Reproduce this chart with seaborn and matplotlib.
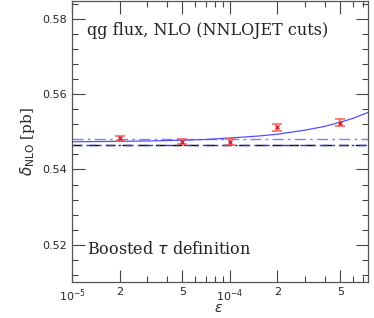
import numpy as np
import pandas as pd
import matplotlib
matplotlib.use('Agg')
import matplotlib.pyplot as plt
import seaborn as sns
from matplotlib.ticker import FixedLocator, FixedFormatter, MultipleLocator

# measured points
eps = [2e-5, 5e-5, 1e-4, 2e-4, 5e-4]
delta = [0.5483, 0.5474, 0.5472, 0.5512, 0.5525]
delta_err = [0.0007, 0.0007, 0.0008, 0.0009, 0.0009]

# fit curve
fit_eps = [1e-5, 2e-5, 3e-5, 5e-5, 7e-5, 1e-4, 1.5e-4, 2e-4, 3e-4, 4e-4, 5e-4, 6e-4, 7.5e-4]
fit_delta = [0.5474, 0.5475, 0.5476, 0.5478, 0.5480, 0.5484, 0.5489, 0.5494,
             0.5505, 0.5515, 0.5526, 0.5536, 0.5552]

# horizontal reference values
ref_light = 0.5482
ref_blue = 0.54665
ref_black = 0.5465

df = pd.DataFrame({'eps': eps, 'delta': delta, 'err': delta_err})
fit = pd.DataFrame({'eps': fit_eps, 'delta': fit_delta})

sns.set_style('ticks')
plt.rcParams['font.family'] = ['DejaVu Sans']

fig = plt.figure(figsize=(3.74, 3.18), dpi=100)
ax = fig.add_axes([0.193, 0.113, 0.791, 0.885])

ax.axhline(ref_light, color='#8080ff', lw=1.0, ls=(0, (8, 3, 2, 3)))
ax.axhline(ref_black, color='black', lw=1.0, ls=(0, (7, 5)))
ax.axhline(ref_blue, color='#3030ee', lw=1.0, ls=(4, (6, 3, 2, 3)))

sns.lineplot(data=fit, x='eps', y='delta', color='#5050ff', lw=0.9, ax=ax)

ax.errorbar(df['eps'], df['delta'], yerr=df['err'], fmt='none', ecolor='#ff5555',
            elinewidth=1.6, capsize=3.5, capthick=1.4, alpha=0.75)
ax.plot(df['eps'], df['delta'], ls='none', marker='x', ms=3, mew=1.0, color='#dd2222')

ax.set_xscale('log')
ax.set_xlim(1e-5, 7.5e-4)
ax.set_ylim(0.51, 0.585)

major = [1e-5, 2e-5, 5e-5, 1e-4, 2e-4, 5e-4]
labels = [r'$10^{-5}$', '2', '5', r'$10^{-4}$', '2', '5']
ax.xaxis.set_major_locator(FixedLocator(major))
ax.xaxis.set_major_formatter(FixedFormatter(labels))
ax.xaxis.set_minor_locator(FixedLocator([3e-5, 4e-5, 6e-5, 7e-5, 8e-5, 9e-5,
                                         3e-4, 4e-4, 6e-4, 7e-4]))
ax.xaxis.set_minor_formatter(FixedFormatter([]))
ax.yaxis.set_minor_locator(MultipleLocator(0.004))
ax.set_yticks([0.52, 0.54, 0.56, 0.58])
ax.set_yticklabels(['0.52', '0.54', '0.56', '0.58'])

ax.tick_params(which='both', direction='in', top=True, right=True, labelsize=8, color='#444444')
ax.tick_params(which='major', length=9, width=0.8)
ax.tick_params(which='minor', length=4.5, width=0.8)
for s in ax.spines.values():
    s.set_color('#555555')
    s.set_linewidth(0.9)

ax.set_xlabel('')
fig.text(0.583, 0.03, r'$\epsilon$', fontsize=10, ha='center', va='center')
ax.set_ylabel(r'$\delta_{\rm NLO}$ [pb]', fontsize=11, family='DejaVu Serif', labelpad=4)

ax.text(0.05, 0.893, 'qg flux, NLO (NNLOJET cuts)', transform=ax.transAxes,
        fontsize=11.5, family='DejaVu Serif', va='center', ha='left', color='#222222')
ax.text(0.05, 0.115, r'Boosted $\tau$ definition', transform=ax.transAxes,
        fontsize=11.5, family='DejaVu Serif', va='center', ha='left', color='#222222')

fig.savefig('out.png', dpi=100)
